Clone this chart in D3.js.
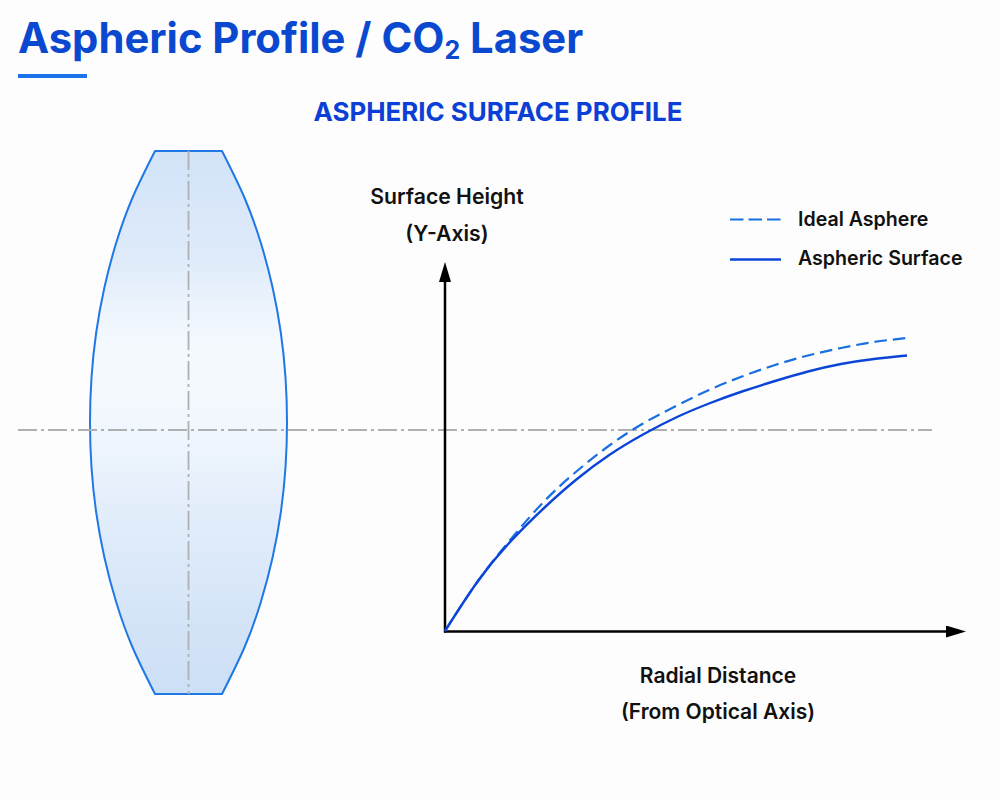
<!DOCTYPE html>
<html><head><meta charset="utf-8">
<script src="https://cdn.jsdelivr.net/npm/d3@7"></script>
<style>html,body{margin:0;padding:0;background:#fdfdfe}svg{display:block}text{font-family:Inter,sans-serif}</style>
</head><body><svg id="c" width="1000" height="800"></svg>
<script>
const titleText = "Aspheric Profile / CO";
const titleSub = "2";
const titleEnd = " Laser";
const chartTitle = "ASPHERIC SURFACE PROFILE";
const yAxisLabels = ["Surface Height", "(Y-Axis)"];
const xAxisLabels = ["Radial Distance", "(From Optical Axis)"];
const legendLabels = ["Ideal Asphere", "Aspheric Surface"];

// Radial distance and heights, in axis units
const radial   = [0, 33, 66, 99, 132, 165, 198, 231, 264, 297, 330, 363, 396, 429, 462];
const surfaceH = [0, 50, 90, 123, 152, 176.5, 196.5, 213.5, 227.5, 239.5, 250, 259.5, 267, 272, 275.5];
const idealH   = [0, 50, 92, 129.5, 160, 186, 207.5, 225, 241, 254.5, 266, 275.5, 283, 289, 293];

// Lens: distance from mid-height and half thickness, in lens units
const lensOffset = [-271.5, -225, -180, -135, -90, -45, 0, 45, 90, 135, 180, 225, 271.5];
const lensHalf   = [33.5, 55.9, 72.2, 84.1, 92.3, 97, 98.5, 97, 92.3, 84.1, 72.2, 55.9, 33.5];

const svg = d3.select("#c");
const defs = svg.append("defs");
const grad = defs.append("linearGradient").attr("id","lensFill").attr("x1",0).attr("x2",0).attr("y1",0).attr("y2",1);
[[0,"#d2e3f8"],[0.2,"#dfebfa"],[0.28,"#ebf3fc"],[0.36,"#f4f9fe"],[0.44,"#f5f9fe"],[0.53,"#eff6fd"],[0.65,"#e4eefb"],[0.85,"#d5e5f8"],[1,"#cddff6"]]
 .forEach(([o,c])=>grad.append("stop").attr("offset",o).attr("stop-color",c));
const mk = defs.append("marker").attr("id","arrow").attr("viewBox","0 0 20 12").attr("refX",0).attr("refY",6)
  .attr("markerUnits","userSpaceOnUse").attr("markerWidth",20).attr("markerHeight",12).attr("orient","auto");
mk.append("path").attr("d","M0,0L20,6L0,12Z").attr("fill","#000");

// Header
const t = svg.append("text").attr("x",18).attr("y",53).attr("font-size",41.75).attr("font-weight",700).attr("fill","#0a49cf");
t.append("tspan").text(titleText);
t.append("tspan").text(titleSub).attr("font-size",25).attr("dy",6);
t.append("tspan").text(titleEnd).attr("dy",-6);
svg.append("rect").attr("x",18).attr("y",74).attr("width",69).attr("height",4).attr("fill","#1a73e8");
svg.append("text").attr("x",498).attr("y",121).attr("text-anchor","middle").attr("font-size",25.9).attr("font-weight",700).attr("fill","#0b3fd6").text(chartTitle);

// Lens
const lensX = d3.scaleLinear().domain([-100,100]).range([88.5,288.5]);
const lensY = d3.scaleLinear().domain([-271.5,271.5]).range([694,151]);
const side = d3.line().curve(d3.curveNatural).x(d=>lensX(d[0])).y(d=>lensY(d[1]));
const rightSide = lensOffset.map((h,i)=>[lensHalf[i],h]);
const leftSide = lensOffset.map((h,i)=>[-lensHalf[i],h]).reverse();
const pathD = side(rightSide)+"L"+side(leftSide).slice(1)+"Z";
svg.append("path").attr("d",pathD).attr("fill","url(#lensFill)").attr("stroke","#1f78e4").attr("stroke-width",2).attr("stroke-linejoin","round");

// Chart scales
const x = d3.scaleLinear().domain([0,462]).range([445,907]);
const y = d3.scaleLinear().domain([0,275]).range([631,356]);
const dash = "19 4 3 4";
svg.append("line").attr("x1",lensX(0)).attr("x2",lensX(0)).attr("y1",151).attr("y2",694).attr("stroke","#aeb0b2").attr("stroke-width",1.8).attr("stroke-dasharray",dash);
svg.append("line").attr("x1",18).attr("x2",932).attr("y1",430).attr("y2",430).attr("stroke","#aeb0b2").attr("stroke-width",1.8).attr("stroke-dasharray",dash);

// Axes
svg.append("line").attr("x1",x(0)).attr("x2",x(0)).attr("y1",632.5).attr("y2",282).attr("stroke","#000").attr("stroke-width",2.5).attr("marker-end","url(#arrow)");
svg.append("line").attr("x1",x(0)-1).attr("x2",946).attr("y1",631.5).attr("y2",631.5).attr("stroke","#000").attr("stroke-width",2.5).attr("marker-end","url(#arrow)");

// Curves
const line = d3.line().curve(d3.curveNatural).x(d=>x(d[0])).y(d=>y(d[1]));
svg.append("path").attr("d",line(radial.map((r,i)=>[r,idealH[i]]))).attr("fill","none").attr("stroke","#1a6fe0").attr("stroke-width",2.2).attr("stroke-dasharray","12.5 6");
svg.append("path").attr("d",line(radial.map((r,i)=>[r,surfaceH[i]]))).attr("fill","none").attr("stroke","#0b45d8").attr("stroke-width",2.4);

// Labels
function txt(s,xx,yy,anchor,size){return svg.append("text").attr("x",xx).attr("y",yy).attr("text-anchor",anchor).attr("font-size",size).attr("font-weight",600).attr("fill","#111").text(s);}
yAxisLabels.forEach((s,i)=>txt(s,447,203.5+i*37.5,"middle",21.2));
xAxisLabels.forEach((s,i)=>txt(s,718,682.5+i*36,"middle",21));
txt(legendLabels[0],798,226,"start",19.6);
txt(legendLabels[1],798,265,"start",19.6);
svg.append("line").attr("x1",730).attr("x2",780.5).attr("y1",219.5).attr("y2",219.5).attr("stroke","#1a6fe0").attr("stroke-width",2.2).attr("stroke-dasharray","13.5 5");
svg.append("line").attr("x1",730).attr("x2",781).attr("y1",259.5).attr("y2",259.5).attr("stroke","#0b45d8").attr("stroke-width",2.4);
</script></body></html>
